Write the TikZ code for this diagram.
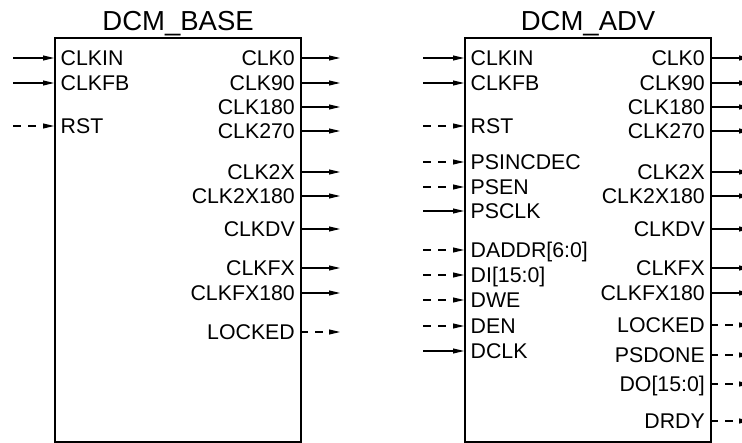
\documentclass[tikz,border=0pt]{standalone}
\usepackage{fontspec}
\setmainfont{Liberation Sans}
\usetikzlibrary{arrows.meta}

\tikzset{
  blk/.style={draw, line width=2.2pt, minimum width=246pt, minimum height=404pt, anchor=north west, inner sep=0pt},
  ttl/.style={anchor=base, inner sep=0pt, font=\fontsize{27.5}{32}\selectfont},
  pinl/.style={anchor=west, inner xsep=6.5pt, inner ysep=0pt, text height=15.2pt, text depth=0pt, font=\fontsize{21.3}{25}\selectfont},
  pinr/.style={anchor=east, inner xsep=5pt, inner ysep=0pt, text height=15.2pt, text depth=0pt, font=\fontsize{21.3}{25}\selectfont},
  sig/.style={-{Triangle[length=11pt, width=5pt]}, line width=1.1pt},
  dsig/.style={sig, dash pattern=on 8pt off 7pt},
}

\begin{document}
\begin{tikzpicture}[x=1pt, y=-1pt]
    \useasboundingbox (0,0) rectangle (742,443);

    % DCM_BASE block
    \node[blk] (base) at (54,37) {};
    \node[ttl] (basettl) at ([yshift=6pt]base.north) {DCM\_BASE};
    \node[pinl] (bclkin) at (54,58) {CLKIN};
    \node[pinl] (bclkfb) at (54,83) {CLKFB};
    \node[pinl] (brst) at (54,126) {RST};
    \node[pinr] (bclk0) at (300,58) {CLK0};
    \node[pinr] (bclk90) at (300,83) {CLK90};
    \node[pinr] (bclk180) at (300,107) {CLK180};
    \node[pinr] (bclk270) at (300,131) {CLK270};
    \node[pinr] (bclk2x) at (300,172) {CLK2X};
    \node[pinr] (bclk2x180) at (300,196) {CLK2X180};
    \node[pinr] (bclkdv) at (300,229) {CLKDV};
    \node[pinr] (bclkfx) at (300,268) {CLKFX};
    \node[pinr] (bclkfx180) at (300,293) {CLKFX180};
    \node[pinr] (blocked) at (300,332) {LOCKED};

    % DCM_ADV block
    \node[blk] (adv) at (464,37) {};
    \node[ttl] (advttl) at ([yshift=6pt]adv.north) {DCM\_ADV};
    \node[pinl] (aclkin) at (464,58) {CLKIN};
    \node[pinl] (aclkfb) at (464,83) {CLKFB};
    \node[pinl] (arst) at (464,126) {RST};
    \node[pinl] (apsincdec) at (464,162) {PSINCDEC};
    \node[pinl] (apsen) at (464,187) {PSEN};
    \node[pinl] (apsclk) at (464,211) {PSCLK};
    \node[pinl] (adaddr) at (464,250) {DADDR[6:0]};
    \node[pinl] (adi) at (464,275) {DI[15:0]};
    \node[pinl] (adwe) at (464,300) {DWE};
    \node[pinl] (aden) at (464,326) {DEN};
    \node[pinl] (adclk) at (464,351) {DCLK};
    \node[pinr] (aclk0) at (710,58) {CLK0};
    \node[pinr] (aclk90) at (710,83) {CLK90};
    \node[pinr] (aclk180) at (710,107) {CLK180};
    \node[pinr] (aclk270) at (710,131) {CLK270};
    \node[pinr] (aclk2x) at (710,172) {CLK2X};
    \node[pinr] (aclk2x180) at (710,196) {CLK2X180};
    \node[pinr] (aclkdv) at (710,229) {CLKDV};
    \node[pinr] (aclkfx) at (710,268) {CLKFX};
    \node[pinr] (aclkfx180) at (710,293) {CLKFX180};
    \node[pinr] (alocked) at (710,325) {LOCKED};
    \node[pinr] (apsdone) at (710,355) {PSDONE};
    \node[pinr] (ado) at (710,384) {DO[15:0]};
    \node[pinr] (adrdy) at (710,421) {DRDY};

    % Free ends
    \coordinate (bclkin-src) at (13,58);
    \coordinate (bclkfb-src) at (13,83);
    \coordinate (brst-src) at (13,126);
    \coordinate (bclk0-dst) at (340,58);
    \coordinate (bclk90-dst) at (340,83);
    \coordinate (bclk180-dst) at (340,107);
    \coordinate (bclk270-dst) at (340,131);
    \coordinate (bclk2x-dst) at (340,172);
    \coordinate (bclk2x180-dst) at (340,196);
    \coordinate (bclkdv-dst) at (340,229);
    \coordinate (bclkfx-dst) at (340,268);
    \coordinate (bclkfx180-dst) at (340,293);
    \coordinate (blocked-dst) at (340,332);
    \coordinate (aclkin-src) at (423,58);
    \coordinate (aclkfb-src) at (423,83);
    \coordinate (arst-src) at (423,126);
    \coordinate (apsincdec-src) at (423,162);
    \coordinate (apsen-src) at (423,187);
    \coordinate (apsclk-src) at (423,211);
    \coordinate (adaddr-src) at (423,250);
    \coordinate (adi-src) at (423,275);
    \coordinate (adwe-src) at (423,300);
    \coordinate (aden-src) at (423,326);
    \coordinate (adclk-src) at (423,351);
    \coordinate (aclk0-dst) at (750,58);
    \coordinate (aclk90-dst) at (750,83);
    \coordinate (aclk180-dst) at (750,107);
    \coordinate (aclk270-dst) at (750,131);
    \coordinate (aclk2x-dst) at (750,172);
    \coordinate (aclk2x180-dst) at (750,196);
    \coordinate (aclkdv-dst) at (750,229);
    \coordinate (aclkfx-dst) at (750,268);
    \coordinate (aclkfx180-dst) at (750,293);
    \coordinate (alocked-dst) at (750,325);
    \coordinate (apsdone-dst) at (750,355);
    \coordinate (ado-dst) at (750,384);
    \coordinate (adrdy-dst) at (750,421);

    % Arrows
    \draw[sig] (bclkin-src) -- (bclkin.west);
    \draw[sig] (bclkfb-src) -- (bclkfb.west);
    \draw[dsig] (brst-src) -- (brst.west);
    \draw[sig] (bclk0.east) -- (bclk0-dst);
    \draw[sig] (bclk90.east) -- (bclk90-dst);
    \draw[sig] (bclk180.east) -- (bclk180-dst);
    \draw[sig] (bclk270.east) -- (bclk270-dst);
    \draw[sig] (bclk2x.east) -- (bclk2x-dst);
    \draw[sig] (bclk2x180.east) -- (bclk2x180-dst);
    \draw[sig] (bclkdv.east) -- (bclkdv-dst);
    \draw[sig] (bclkfx.east) -- (bclkfx-dst);
    \draw[sig] (bclkfx180.east) -- (bclkfx180-dst);
    \draw[dsig] (blocked.east) -- (blocked-dst);

    \draw[sig] (aclkin-src) -- (aclkin.west);
    \draw[sig] (aclkfb-src) -- (aclkfb.west);
    \draw[dsig] (arst-src) -- (arst.west);
    \draw[dsig] (apsincdec-src) -- (apsincdec.west);
    \draw[dsig] (apsen-src) -- (apsen.west);
    \draw[sig] (apsclk-src) -- (apsclk.west);
    \draw[dsig] (adaddr-src) -- (adaddr.west);
    \draw[dsig] (adi-src) -- (adi.west);
    \draw[dsig] (adwe-src) -- (adwe.west);
    \draw[dsig] (aden-src) -- (aden.west);
    \draw[sig] (adclk-src) -- (adclk.west);
    \draw[sig] (aclk0.east) -- (aclk0-dst);
    \draw[sig] (aclk90.east) -- (aclk90-dst);
    \draw[sig] (aclk180.east) -- (aclk180-dst);
    \draw[sig] (aclk270.east) -- (aclk270-dst);
    \draw[sig] (aclk2x.east) -- (aclk2x-dst);
    \draw[sig] (aclk2x180.east) -- (aclk2x180-dst);
    \draw[sig] (aclkdv.east) -- (aclkdv-dst);
    \draw[sig] (aclkfx.east) -- (aclkfx-dst);
    \draw[sig] (aclkfx180.east) -- (aclkfx180-dst);
    \draw[dsig] (alocked.east) -- (alocked-dst);
    \draw[dsig] (apsdone.east) -- (apsdone-dst);
    \draw[dsig] (ado.east) -- (ado-dst);
    \draw[dsig] (adrdy.east) -- (adrdy-dst);
\end{tikzpicture}
\end{document}
